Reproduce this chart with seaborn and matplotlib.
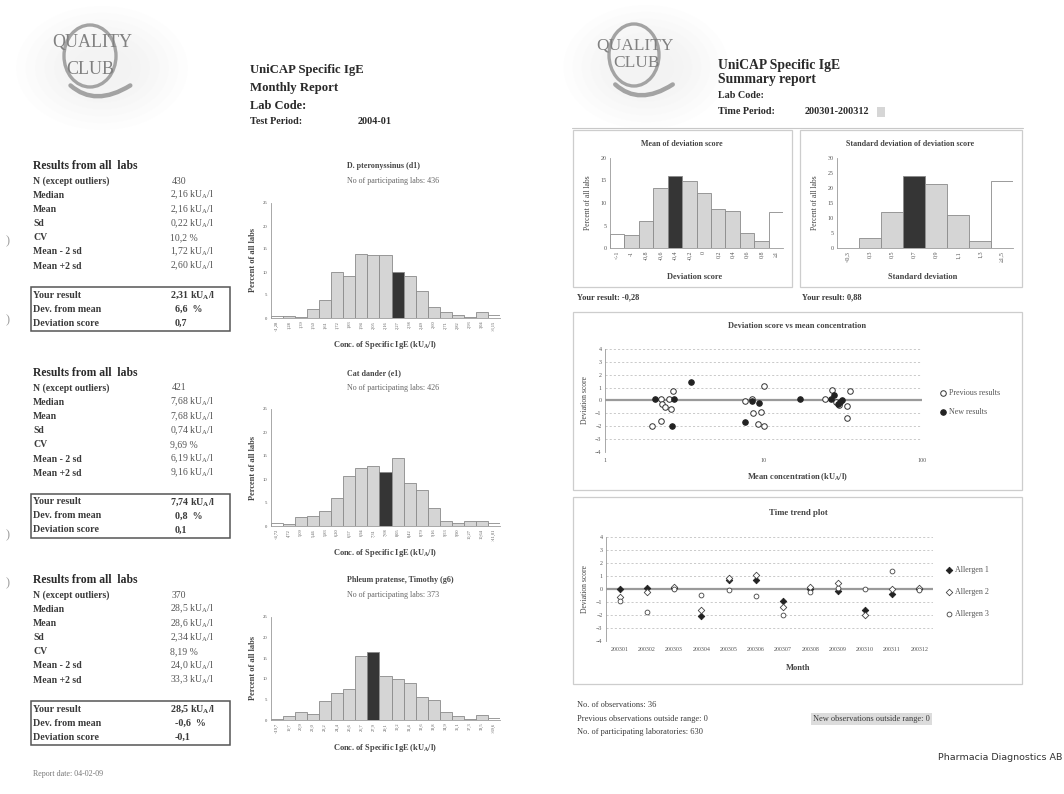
import matplotlib
matplotlib.use("Agg")
import matplotlib.pyplot as plt
from matplotlib.patches import Rectangle, Ellipse, PathPatch
from matplotlib.path import Path
from matplotlib.ticker import NullLocator
import pandas as pd
import seaborn as sns

sns.set_style("white")
plt.rcParams["font.family"] = ["Liberation Serif", "DejaVu Serif"]
plt.rcParams["mathtext.default"] = "regular"

W, H = 1064, 794

# ---------------- monthly report: three allergens ----------------
stat_labels = ["N (except outliers)", "Median", "Mean", "Sd", "CV", "Mean - 2 sd", "Mean +2 sd"]
box_labels = ["Your result", "Dev. from mean", "Deviation score"]

d1_name = "D. pteronyssinus (d1)"
d1_labs = "No of participating labs: 436"
d1_stats = ["430", "2,16 kU$_A$/l", "2,16 kU$_A$/l", "0,22 kU$_A$/l", "10,2 %", "1,72 kU$_A$/l", "2,60 kU$_A$/l"]
d1_box = ["2,31 kU$_A$/l", "6,6  %", "0,7"]
d1_bins = ["<1,28", "1,28", "1,39", "1,50", "1,61", "1,72", "1,83", "1,94", "2,05", "2,16",
           "2,27", "2,38", "2,49", "2,60", "2,71", "2,82", "2,93", "3,04", ">3,15"]
d1_pct = [0.5, 0.4, 0.2, 1.9, 3.9, 9.9, 9.2, 14.0, 13.8, 13.8, 9.9, 9.2, 5.8, 2.4, 1.2, 0.6, 0.2, 1.4, 0.7]
d1_own = "2,27"

e1_name = "Cat dander (e1)"
e1_labs = "No of participating labs: 426"
e1_stats = ["421", "7,68 kU$_A$/l", "7,68 kU$_A$/l", "0,74 kU$_A$/l", "9,69 %", "6,19 kU$_A$/l", "9,16 kU$_A$/l"]
e1_box = ["7,74 kU$_A$/l", "0,8  %", "0,1"]
e1_bins = ["<4,72", "4,72", "5,09", "5,46", "5,83", "6,20", "6,57", "6,94", "7,31", "7,68",
           "8,05", "8,42", "8,79", "9,16", "9,53", "9,90", "10,27", "10,64", ">11,01"]
e1_pct = [0.6, 0.4, 1.9, 2.2, 3.2, 6.0, 10.7, 12.5, 12.9, 11.6, 14.6, 9.2, 7.7, 3.8, 1.0, 0.7, 1.0, 1.0, 0.6]
e1_own = "7,68"

g6_name = "Phleum pratense, Timothy (g6)"
g6_labs = "No of participating labs: 373"
g6_stats = ["370", "28,5 kU$_A$/l", "28,6 kU$_A$/l", "2,34 kU$_A$/l", "8,19 %", "24,0 kU$_A$/l", "33,3 kU$_A$/l"]
g6_box = ["28,5 kU$_A$/l", "-0,6  %", "-0,1"]
g6_bins = ["<19,7", "19,7", "20,9", "22,0", "23,2", "24,4", "25,6", "26,7", "27,9", "29,1",
           "30,2", "31,4", "32,6", "33,8", "34,9", "36,1", "37,3", "38,5", ">39,6"]
g6_pct = [0.3, 1.0, 1.9, 1.4, 4.5, 6.5, 7.6, 15.5, 16.5, 10.8, 10.0, 9.1, 5.6, 4.9, 1.9, 0.9, 0.2, 1.1, 0.5]
g6_own = "27,9"

# ---------------- summary report ----------------
mean_bins = ["<-1", "-1", "-0,8", "-0,6", "-0,4", "-0,2", "0", "0,2", "0,4", "0,6", "0,8", "≥1"]
mean_pct = [3.2, 3.0, 5.9, 13.3, 16.1, 14.8, 12.2, 8.7, 8.3, 3.3, 1.5, 8.1]
mean_own = "-0,4"

sd_bins = ["<0,3", "0,3", "0,5", "0,7", "0,9", "1,1", "1,3", "≥1,5"]
sd_pct = [0.0, 3.3, 12.0, 24.0, 21.3, 11.1, 2.3, 22.2]
sd_own = "0,7"

prev_conc = [1.99, 2.25, 2.28, 2.39, 2.27, 2.55, 2.62, 2.68, 7.67, 8.45, 8.58,
             9.17, 9.66, 10.0, 10.1, 24.5, 27.0, 28.6, 30.0, 33.4, 33.8, 35.3]
prev_score = [-2.0, 0.15, -0.3, -0.5, -1.6, 0.1, -0.65, 0.7, -0.05, 0.15, -1.0,
              -1.8, -0.9, 1.1, -2.0, 0.1, 0.85, -0.15, -0.35, -1.35, -0.45, 0.7]
new_conc = [2.07, 2.65, 2.73, 3.49, 8.45, 7.60, 9.43, 17.0, 26.6, 27.8, 29.4, 30.5, 31.2]
new_score = [0.15, -2.0, 0.1, 1.4, -0.05, -1.7, -0.2, 0.1, 0.1, 0.4, -0.3, -0.1, 0.0]

months = ["200301", "200302", "200303", "200304", "200305", "200306",
          "200307", "200308", "200309", "200310", "200311", "200312"]
allergen1 = [0.0, 0.1, 0.05, -2.05, 0.7, 0.7, -0.95, 0.0, -0.15, -1.6, -0.35, 0.0]
allergen2 = [-0.6, -0.2, 0.15, -1.6, 0.85, 1.1, -1.35, 0.15, 0.45, -2.0, 0.0, 0.1]
allergen3 = [-0.9, -1.8, 0.0, -0.45, -0.05, -0.55, -2.0, -0.25, 0.05, 0.0, 1.4, -0.05]

LIGHT, DARK, EDGE = "#d5d5d5", "#353535", "#8a8a8a"
INK, SOFT = "#2a2a2a", "#555555"

fig = plt.figure(figsize=(W / 100, H / 100), dpi=100)
fig.patch.set_facecolor("white")
bg = fig.add_axes([0, 0, 1, 1], zorder=0)
bg.set_xlim(0, W)
bg.set_ylim(H, 0)
bg.axis("off")


def px_axes(x0, y0, x1, y1):
    ax = fig.add_axes([x0 / W, 1 - y1 / H, (x1 - x0) / W, (y1 - y0) / H], zorder=2)
    ax.set_facecolor("none")
    return ax


def txt(x, y, s, size=7, weight="normal", color=INK, ha="left", rot=0, **kw):
    bg.text(x, y, s, fontsize=size, fontweight=weight, color=color, ha=ha,
            va="center", rotation=rot, **kw)


def logo(cx, cy, rx, ry, tq, tc, size):
    # faint grey cloud behind the emblem, built from soft layered ellipses
    for k in range(7):
        f = 1.0 - 0.11 * k
        bg.add_patch(Ellipse((cx + 12, cy + 12), 2 * rx * 3.3 * f, 2 * ry * 2.0 * f,
                             fc="#dedede", ec="none", alpha=0.045, zorder=0))
    bg.add_patch(Ellipse((cx, cy), 2 * rx, 2 * ry, fill=False, ec="#a3a3a3", lw=2.4, zorder=1))
    verts = [(cx - rx * 0.75, cy + ry * 0.95), (cx + rx * 0.2, cy + ry * 1.65), (cx + rx * 1.55, cy + ry * 0.95)]
    bg.add_patch(PathPatch(Path(verts, [Path.MOVETO, Path.CURVE3, Path.CURVE3]),
                           fill=False, ec="#a3a3a3", lw=3.2, capstyle="round", zorder=1))
    txt(tq[0], tq[1], "QUALITY", size=size, color="#808080", ha="center")
    txt(tc[0], tc[1], "CLUB", size=size, color="#808080", ha="center")


def histogram(ax, bins, pct, own, ymax, step, tfs, xfs):
    colors = []
    for i, b in enumerate(bins):
        if b == own:
            colors.append(DARK)
        elif i in (0, len(bins) - 1):
            colors.append("white")
        else:
            colors.append(LIGHT)
    df = pd.DataFrame({"bin": bins, "pct": pct})
    sns.barplot(data=df, x="bin", y="pct", hue="bin", palette=colors, legend=False,
                width=1.0, saturation=1, edgecolor=EDGE, linewidth=0.6, ax=ax)
    ax.set_xlim(-0.5, len(bins) - 0.5)
    ax.set_ylim(0, ymax)
    ax.set_yticks(range(0, ymax + 1, step))
    ax.set_xlabel("")
    ax.set_ylabel("")
    ax.tick_params(axis="y", labelsize=tfs, length=1.5, width=0.5, color="#999", pad=1, labelcolor=SOFT)
    ax.tick_params(axis="x", labelsize=xfs, length=0, pad=2, labelcolor=SOFT, rotation=90)
    sns.despine(ax=ax)
    for s in ("left", "bottom"):
        ax.spines[s].set_color("#9a9a9a")
        ax.spines[s].set_linewidth(0.6)


# ======================= left page =======================
logo(90, 56, 26, 31, (92, 43), (90, 70), 13)
txt(250, 70, "UniCAP Specific IgE", size=9.2, weight="bold")
txt(250, 88, "Monthly Report", size=9.2, weight="bold")
txt(250, 106, "Lab Code:", size=9, weight="bold")
txt(250, 121, "Test Period:", size=7.3, weight="bold")
txt(358, 121, "2004-01", size=7.3, weight="bold")

blocks = [
    (166, d1_name, d1_labs, d1_stats, d1_box, d1_bins, d1_pct, d1_own, (203, 318), 345),
    (373, e1_name, e1_labs, e1_stats, e1_box, e1_bins, e1_pct, e1_own, (409, 526), 553),
    (580, g6_name, g6_labs, g6_stats, g6_box, g6_bins, g6_pct, g6_own, (617, 720), 748),
]
for y0, name, labs, stats, box, bins, pct, own, (ya, yb), yx in blocks:
    txt(33, y0, "Results from all  labs", size=8.4, weight="bold")
    for k, (lab, val) in enumerate(zip(stat_labels, stats)):
        yy = y0 + 15 + 14.2 * k
        txt(33, yy, lab, size=7, weight="bold", color="#3a3a3a")
        txt(172 if k == 0 else 170, yy, val, size=7, color=SOFT)
    bg.add_patch(Rectangle((31, y0 + 121), 199, 44, fill=False, ec="#555", lw=1.1))
    for k, (lab, val) in enumerate(zip(box_labels, box)):
        yy = y0 + 129 + 14 * k
        txt(33, yy, lab, size=7.2, weight="bold", color="#3a3a3a")
        txt(170 if k == 0 else 175, yy, val, size=7.2, weight="bold", color="#3a3a3a")
    txt(347, y0, name, size=5.8, weight="bold", color="#444")
    txt(347, y0 + 15, labs, size=5.8, color="#666")
    ax = px_axes(271, ya, 500, yb)
    histogram(ax, bins, pct, own, 25, 5, 3.4, 3.2)
    txt(253, (ya + yb) / 2, "Percent of all labs", size=6, weight="bold", color="#444", ha="center", rot=90)
    txt(385, yx, "Conc. of Specific IgE (kU$_A$/l)", size=6, weight="bold", color="#444", ha="center")

txt(33, 774, "Report date: 04-02-09", size=5.8, color="#777")
for yy in (241, 320, 535, 583):
    txt(6, yy, ")", size=9, color="#9a9a9a")

# ======================= right page =======================
logo(634, 55, 25, 31, (635, 45), (637, 63), 12.5)
txt(718, 65, "UniCAP Specific IgE", size=9.8, weight="bold")
txt(718, 80, "Summary report", size=9.8, weight="bold")
txt(718, 96, "Lab Code:", size=7.3, weight="bold")
txt(718, 112, "Time Period:", size=7.3, weight="bold")
txt(805, 112, "200301-200312", size=7.3, weight="bold")
bg.add_patch(Rectangle((877, 107), 8, 10, fc="#d6d6d6", ec="none"))
bg.plot([572, 1023], [128, 128], color="#c8c8c8", lw=0.8)

for (x0, y0, x1, y1) in [(573, 130, 792, 287), (800, 130, 1022, 287),
                         (573, 312, 1022, 490), (573, 497, 1022, 684)]:
    bg.add_patch(Rectangle((x0, y0), x1 - x0, y1 - y0, fill=False, ec="#cdcdcd", lw=0.9))

# distribution of the mean deviation score
ax = px_axes(610, 158, 783, 248)
histogram(ax, mean_bins, mean_pct, mean_own, 20, 5, 4.3, 4.3)
txt(682, 144, "Mean of deviation score", size=5.8, weight="bold", color="#444", ha="center")
txt(588, 203, "Percent of all labs", size=5.5, color="#444", ha="center", rot=90)
txt(695, 277, "Deviation score", size=6, weight="bold", color="#444", ha="center")
txt(577, 297, "Your result: -0,28", size=6, weight="bold", color="#3a3a3a")

# distribution of the standard deviation
ax = px_axes(837, 158, 1013, 248)
histogram(ax, sd_bins, sd_pct, sd_own, 30, 5, 4.3, 4.3)
txt(910, 144, "Standard deviation of deviation score", size=5.8, weight="bold", color="#444", ha="center")
txt(815, 203, "Percent of all labs", size=5.5, color="#444", ha="center", rot=90)
txt(923, 277, "Standard deviation", size=6, weight="bold", color="#444", ha="center")
txt(802, 297, "Your result: 0,88", size=6, weight="bold", color="#3a3a3a")


def score_axes(ax):
    ax.set_ylim(-4, 4)
    ax.set_yticks(range(-4, 5))
    ax.yaxis.grid(True, linestyle=(0, (3, 3)), color="#b5b5b5", lw=0.5)
    ax.xaxis.grid(False)
    ax.axhline(0, color="#9a9a9a", lw=1.6, zorder=1)
    ax.set_xlabel("")
    ax.set_ylabel("")
    sns.despine(ax=ax, bottom=True)
    ax.spines["left"].set_color("#9a9a9a")
    ax.spines["left"].set_linewidth(0.6)
    ax.tick_params(axis="y", labelsize=4.3, length=1.5, width=0.5, color="#999", pad=1, labelcolor=SOFT)
    ax.tick_params(axis="x", labelsize=4.3, length=0, pad=4, labelcolor=SOFT)


# deviation score against mean concentration
ax = px_axes(605, 349, 922, 452)
sns.scatterplot(x=prev_conc, y=prev_score, marker="o", s=16, color="white", edgecolor="#333",
                linewidth=0.7, label="Previous results", ax=ax, zorder=3)
sns.scatterplot(x=new_conc, y=new_score, marker="o", s=16, color="#222", edgecolor="#222",
                linewidth=0.7, label="New results", ax=ax, zorder=3)
ax.set_xscale("log")
ax.set_xlim(1, 100)
ax.set_xticks([1, 10, 100])
ax.set_xticklabels(["1", "10", "100"])
ax.xaxis.set_minor_locator(NullLocator())
score_axes(ax)
ax.legend(loc="upper left", bbox_to_anchor=(935 / W, 1 - 385 / H), bbox_transform=fig.transFigure,
          frameon=False, fontsize=5.8, labelspacing=1.4, handletextpad=0.2, borderpad=0,
          handlelength=1.0, labelcolor="#555")
txt(797, 326, "Deviation score vs mean concentration", size=6, weight="bold", color="#444", ha="center")
txt(585, 400, "Deviation score", size=5.5, color="#444", ha="center", rot=90)
txt(797, 477, "Mean concentration (kU$_A$/l)", size=6, weight="bold", color="#444", ha="center")

# time trend of deviation scores
ax = px_axes(606, 537, 933, 641)
sns.scatterplot(x=months, y=allergen1, marker="D", s=11, color="#222", edgecolor="#222",
                linewidth=0.6, label="Allergen 1", ax=ax, zorder=3)
sns.scatterplot(x=months, y=allergen2, marker="D", s=11, color="white", edgecolor="#444",
                linewidth=0.6, label="Allergen 2", ax=ax, zorder=3)
sns.scatterplot(x=months, y=allergen3, marker="o", s=12, color="white", edgecolor="#444",
                linewidth=0.6, label="Allergen 3", ax=ax, zorder=3)
ax.set_xlim(-0.5, len(months) - 0.5)
score_axes(ax)
ax.legend(loc="upper left", bbox_to_anchor=(941 / W, 1 - 562 / H), bbox_transform=fig.transFigure,
          frameon=False, fontsize=5.8, labelspacing=1.75, handletextpad=0.2, borderpad=0,
          handlelength=1.0, labelcolor="#555")
txt(798, 513, "Time trend plot", size=6.3, weight="bold", color="#444", ha="center")
txt(585, 589, "Deviation score", size=5.5, color="#444", ha="center", rot=90)
txt(798, 668, "Month", size=6, weight="bold", color="#444", ha="center")

txt(577, 705, "No. of observations: 36", size=6, color="#3a3a3a")
txt(577, 719, "Previous observations outside range: 0", size=6, color="#3a3a3a")
txt(577, 732, "No. of participating laboratories: 630", size=6, color="#3a3a3a")
txt(813, 719, "New observations outside range: 0", size=6, color="#3a3a3a",
    bbox=dict(facecolor="#dcdcdc", edgecolor="none", pad=1.2))
bg.text(1062, 758, "Pharmacia Diagnostics AB", fontsize=6.8, family="DejaVu Sans",
        color="#333", ha="right", va="center")

fig.savefig("out.png", dpi=100)
